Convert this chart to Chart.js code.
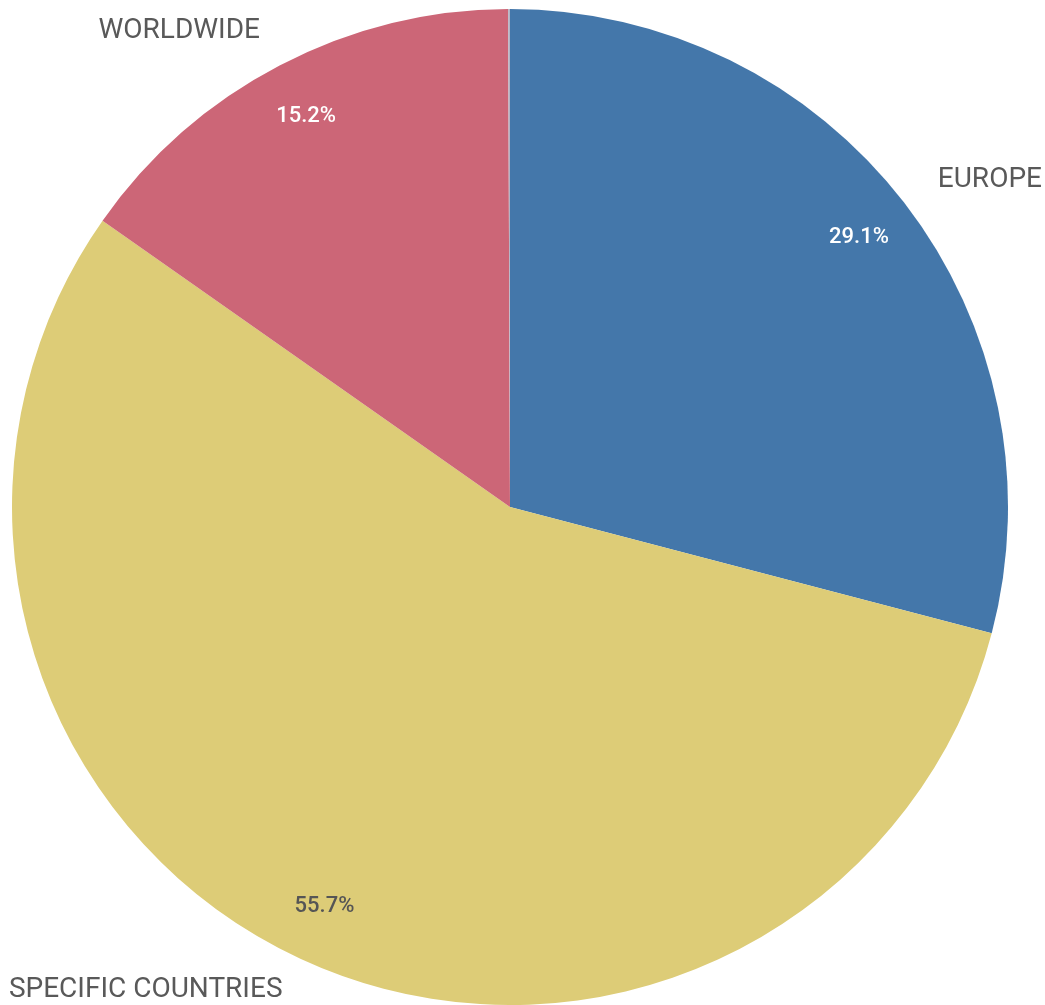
<!DOCTYPE html>
<html>
<head>
<meta charset="utf-8">
<script src="https://cdn.jsdelivr.net/npm/chart.js@4/dist/chart.umd.min.js"></script>
<style>
  html, body { margin: 0; padding: 0; background: #ffffff; }
  #wrap { width: 1045px; height: 1005px; }
</style>
</head>
<body>
<div id="wrap"><canvas id="pie" width="1045" height="1005"></canvas></div>
<script>
// Share of records by region scope (percent)
const categories = ['EUROPE', 'SPECIFIC COUNTRIES', 'WORLDWIDE', '-'];
const shares = [29.1, 55.7, 15.2, 0.06];
const sliceColors = ['#4477aa', '#ddcc77', '#cc6677', '#b4b4c4'];
const valueTextColors = ['#ffffff', '#555555', '#ffffff', '#ffffff'];

const labelFont = '28px Roboto, "Liberation Sans", sans-serif';
const valueFont = '500 22px Roboto, "Liberation Sans", sans-serif';

// Draws the percentage inside each slice and the category name just outside it
const sliceLabels = {
  id: 'sliceLabels',
  afterDraw(chart) {
    const ctx = chart.ctx;
    const meta = chart.getDatasetMeta(0);
    const H = chart.height, W = chart.width;
    meta.data.forEach((arc, i) => {
      if (categories[i] === '-') return;
      const p = arc.getProps(['x', 'y', 'startAngle', 'endAngle', 'outerRadius'], true);
      const mid = (p.startAngle + p.endAngle) / 2;
      const c = Math.cos(mid), s = Math.sin(mid);

      ctx.save();
      ctx.font = valueFont;
      ctx.fillStyle = valueTextColors[i];
      ctx.textAlign = 'center';
      ctx.textBaseline = 'middle';
      const ri = p.outerRadius * 0.885;
      ctx.fillText(shares[i].toFixed(1) + '%', p.x + c * ri, p.y + s * ri);

      ctx.font = labelFont;
      ctx.fillStyle = '#595959';
      ctx.textAlign = c >= 0 ? 'left' : 'right';
      const ro = p.outerRadius * 1.085;
      let lx = p.x + c * ro;
      let ly = p.y + s * ro + 3;
      const half = 15;
      ly = Math.max(half, Math.min(H - half, ly));
      const tw = ctx.measureText(categories[i]).width;
      if (c < 0) lx = Math.max(tw + 2, lx); else lx = Math.min(W - tw - 2, lx);
      ctx.fillText(categories[i], lx, ly);
      ctx.restore();
    });
  }
};

new Chart(document.getElementById('pie'), {
  type: 'pie',
  data: {
    labels: categories,
    datasets: [{
      data: shares,
      backgroundColor: sliceColors,
      borderWidth: 0,
      hoverOffset: 0
    }]
  },
  options: {
    responsive: false,
    animation: false,
    layout: { padding: { top: 9, bottom: 0, left: 0, right: 25 } },
    plugins: {
      legend: { display: false },
      tooltip: { enabled: false }
    }
  },
  plugins: [sliceLabels]
});
</script>
</body>
</html>
